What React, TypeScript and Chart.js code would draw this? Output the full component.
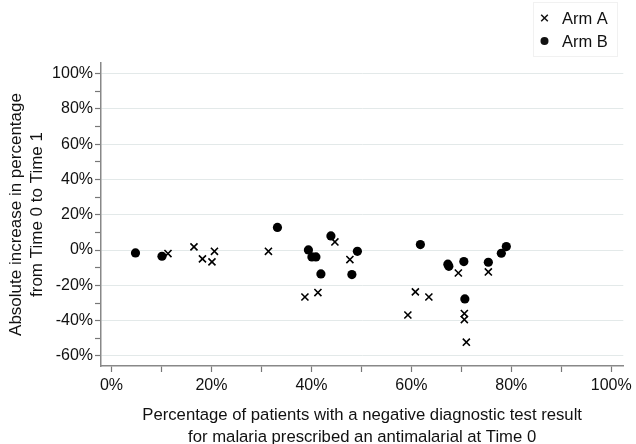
import React, { useEffect, useRef } from "react";
import { Chart, registerables } from "chart.js";

Chart.register(...registerables);

// ---- Data ----
const armALabel = "Arm A";
const armAX = [11.3, 16.5, 18.2, 20.1, 20.6, 31.4, 44.7, 47.7, 38.7, 41.3, 69.4, 75.4, 60.8, 63.5, 59.3, 70.6, 70.6, 71.0];
const armAY = [-2.0, 1.8, -5.0, -6.7, -0.7, -0.7, 4.6, -5.4, -26.6, -24.1, -13.0, -12.4, -23.7, -26.6, -36.8, -36.0, -39.4, -52.2];

const armBLabel = "Arm B";
const armBX = [4.8, 10.1, 33.2, 43.9, 39.4, 40.1, 40.9, 41.9, 49.2, 48.1, 61.8, 67.3, 67.5, 70.5, 75.4, 78.0, 79.0, 70.7];
const armBY = [-1.6, -3.5, 12.8, 8.0, 0.1, -3.9, -3.9, -13.5, -0.7, -13.9, 3.1, -8.0, -9.2, -6.5, -6.9, -1.8, 2.0, -27.7];

const xTickValues = [0, 10, 20, 30, 40, 50, 60, 70, 80, 90, 100];
const yTickValues = [-60, -50, -40, -30, -20, -10, 0, 10, 20, 30, 40, 50, 60, 70, 80, 90, 100];
const xTitleLines = [
  "Percentage of patients with a negative diagnostic test result",
  "for malaria prescribed an antimalarial at Time 0",
];
const yTitleLines = ["Absolute increase in percentage", "from Time 0 to Time 1"];

const FONT = "'Liberation Sans', Arial, Helvetica, sans-serif";

const legendPlugin = {
  id: "boxLegend",
  afterDraw(chart: any) {
    const ctx = chart.ctx;
    ctx.save();
    ctx.strokeStyle = "#f1f1f1";
    ctx.lineWidth = 1;
    ctx.strokeRect(533.5, 2.5, 84, 54);
    ctx.fillStyle = "#111";
    ctx.strokeStyle = "#111";
    ctx.font = `16.5px ${FONT}`;
    ctx.textBaseline = "middle";
    ctx.textAlign = "left";
    const ds = chart.data.datasets;
    // cross
    const cx = 544.5, cy = 18;
    ctx.lineWidth = 1.5;
    ctx.beginPath();
    ctx.moveTo(cx - 3.3, cy - 3.3);
    ctx.lineTo(cx + 3.3, cy + 3.3);
    ctx.moveTo(cx - 3.3, cy + 3.3);
    ctx.lineTo(cx + 3.3, cy - 3.3);
    ctx.stroke();
    ctx.fillText(ds[0].label, 562, cy + 1);
    // dot
    const dy = 41;
    ctx.beginPath();
    ctx.arc(cx, dy, 4, 0, Math.PI * 2);
    ctx.fill();
    ctx.fillText(ds[1].label, 562, dy + 1);
    ctx.restore();
  },
};

export default function App() {
  const ref = useRef<HTMLCanvasElement>(null);

  useEffect(() => {
    if (!ref.current) return;
    const chart = new Chart(ref.current, {
      type: "scatter",
      data: {
        datasets: [
          {
            label: armALabel,
            data: armAX.map((x, i) => ({ x, y: armAY[i] })),
            pointStyle: "crossRot",
            pointRadius: 5,
            borderColor: "#000",
            backgroundColor: "#000",
            borderWidth: 1.6,
          },
          {
            label: armBLabel,
            data: armBX.map((x, i) => ({ x, y: armBY[i] })),
            pointStyle: "circle",
            pointRadius: 4.6,
            borderColor: "#000",
            backgroundColor: "#000",
            borderWidth: 0,
          },
        ],
      },
      options: {
        responsive: false,
        animation: false,
        layout: { padding: { top: 63, right: 11, bottom: 0, left: 0 } },
        plugins: {
          legend: { display: false },
          tooltip: { enabled: false },
        },
        scales: {
          x: {
            type: "linear",
            min: -2.1,
            max: 102.4,
            afterBuildTicks: (s: any) => {
              s.ticks = xTickValues.map((v) => ({ value: v }));
            },
            afterFit: (s: any) => {
              s.height = 78;
            },
            grid: {
              drawOnChartArea: false,
              drawTicks: true,
              tickLength: 6,
              tickColor: "#777",
              tickWidth: 1.2,
            },
            border: { display: true, color: "#888", width: 1.5 },
            ticks: {
              autoSkip: false,
              maxRotation: 0,
              padding: 4,
              color: "#111",
              font: { family: FONT, size: 16 },
              callback: (v: any) => (Number(v) % 20 === 0 ? `${v}%` : ""),
            },
            title: {
              display: true,
              text: xTitleLines,
              color: "#111",
              font: { family: FONT, size: 16.7, lineHeight: 1.32 },
              padding: { top: 0, bottom: -4 },
            },
          },
          y: {
            type: "linear",
            min: -65.7,
            max: 106,
            afterBuildTicks: (s: any) => {
              s.ticks = yTickValues.map((v) => ({ value: v }));
            },
            afterFit: (s: any) => {
              s.width = 101;
            },
            grid: {
              color: (c: any) =>
                c.tick && c.tick.value % 20 === 0 ? "#e3e9e9" : "rgba(0,0,0,0)",
              lineWidth: 1,
              drawTicks: true,
              tickLength: 6,
              tickColor: "#777",
              tickWidth: 1.2,
            },
            border: { display: true, color: "#888", width: 1.5 },
            ticks: {
              autoSkip: false,
              padding: 2,
              color: "#111",
              font: { family: FONT, size: 16 },
              callback: (v: any) => (Number(v) % 20 === 0 ? `${v}%` : ""),
            },
            title: {
              display: true,
              text: yTitleLines,
              color: "#111",
              font: { family: FONT, size: 17, lineHeight: 1.25 },
              padding: { top: 5.5, bottom: 0 },
            },
          },
        },
      },
      plugins: [legendPlugin],
    });
    return () => chart.destroy();
  }, []);

  return (
    <div style={{ position: "fixed", left: 0, top: 0, width: 636, height: 444, background: "#fff" }}>
      <canvas ref={ref} width={636} height={444} style={{ width: 636, height: 444, display: "block" }} />
    </div>
  );
}
